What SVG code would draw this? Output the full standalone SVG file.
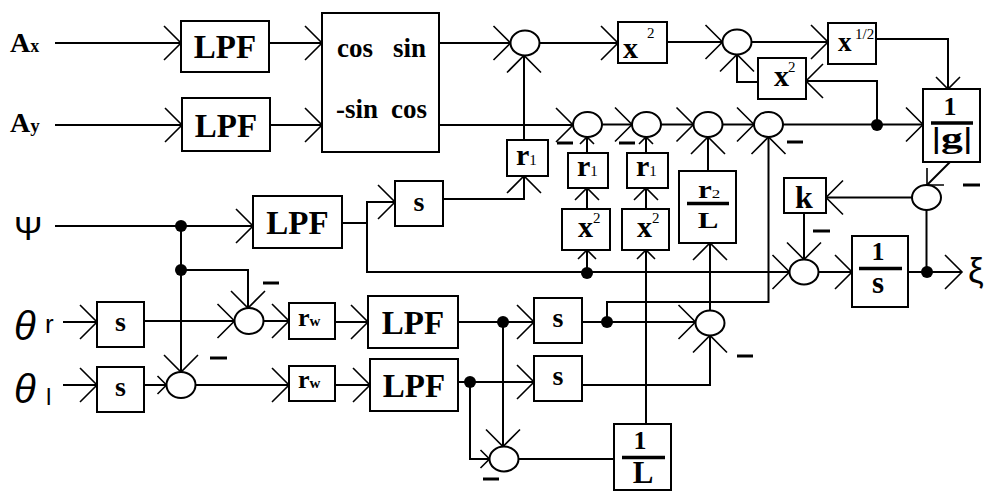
<svg xmlns="http://www.w3.org/2000/svg" width="990" height="493" viewBox="0 0 990 493">
<defs>
<style>
.ln{fill:none;stroke:#000;stroke-width:2}
.bx{fill:#fff;stroke:#000;stroke-width:2}
.sj{fill:#fff;stroke:#000;stroke-width:2}
.dot{fill:#000}
.neg{stroke:#000;stroke-width:3}
.bar{stroke:#000;stroke-width:3.5}
.ch{fill:none;stroke:#000;stroke-width:1.6}
.t{font-family:"Liberation Serif","Times New Roman",serif;font-weight:bold;fill:#000}
.n{font-weight:normal}
.c{text-anchor:middle}
.sans{font-family:"Liberation Sans",Arial,sans-serif;font-weight:normal;fill:#000}
</style>
<marker id="a" markerUnits="userSpaceOnUse" markerWidth="40" markerHeight="40" refX="0" refY="0" orient="auto" overflow="visible"><path class="ch" d="M-17,-17L0,0L-17,17"/></marker>
<marker id="m" markerUnits="userSpaceOnUse" markerWidth="30" markerHeight="30" refX="0" refY="0" orient="auto" overflow="visible"><path class="ch" d="M-12,-12L0,0L-12,12"/></marker>
<marker id="s" markerUnits="userSpaceOnUse" markerWidth="20" markerHeight="20" refX="0" refY="0" orient="auto" overflow="visible"><path class="ch" d="M-9,-9L0,0L-9,9"/></marker>
<marker id="t" markerUnits="userSpaceOnUse" markerWidth="16" markerHeight="16" refX="0" refY="0" orient="auto" overflow="visible"><path class="ch" d="M-7,-7L0,0L-7,7"/></marker>
</defs>
<rect width="990" height="493" fill="#fff"/>

<g id="connectors">
<path class="ln" marker-end="url(#a)" d="M55,43H181"/>
<path class="ln" marker-end="url(#a)" d="M269,43H322"/>
<path class="ln" marker-end="url(#a)" d="M55,125H182"/>
<path class="ln" marker-end="url(#a)" d="M270,125H322"/>
<path class="ln" marker-end="url(#a)" d="M439,43H510.5"/>
<path class="ln" marker-end="url(#a)" d="M524,140V55.5"/>
<path class="ln" marker-end="url(#a)" d="M539.5,43H618"/>
<path class="ln" marker-end="url(#a)" d="M667,42H722.5"/>
<path class="ln" marker-end="url(#a)" d="M751.5,42H828"/>
<path class="ln" marker-end="url(#m)" d="M876,39H948V89"/>
<path class="ln" marker-end="url(#a)" d="M877,125V81H806"/>
<path class="ln" marker-end="url(#a)" d="M758,82H737V54.5"/>
<path class="ln" marker-end="url(#a)" d="M439,125H573"/>
<path class="ln" marker-end="url(#a)" d="M602,124.5H632"/>
<path class="ln" marker-end="url(#a)" d="M661,124.5H693.5"/>
<path class="ln" marker-end="url(#a)" d="M722.5,124.5H754"/>
<path class="ln" marker-end="url(#a)" d="M783,124.5H923"/>
<path class="ln" marker-end="url(#t)" d="M587,153V137"/>
<path class="ln" marker-end="url(#t)" d="M646,153V137"/>
<path class="ln" marker-end="url(#m)" d="M587,209V188"/>
<path class="ln" marker-end="url(#m)" d="M646,209V188"/>
<path class="ln" marker-end="url(#s)" d="M587,273V250"/>
<path class="ln" marker-end="url(#s)" d="M646,424V250"/>
<path class="ln" marker-end="url(#a)" d="M708,171V137"/>
<path class="ln" marker-end="url(#a)" d="M710,310.5V243"/>
<path class="ln" marker-end="url(#a)" d="M607,322V302H768.5V137"/>
<path class="ln" marker-end="url(#m)" d="M950,162L927,185"/>
<path class="ln" marker-end="url(#a)" d="M912,197.5H826"/>
<path class="ln" d="M926.5,210V272"/>
<path class="ln" marker-end="url(#a)" d="M804,213V259.5"/>
<path class="ln" marker-end="url(#a)" d="M342,223H367V272H789.5"/>
<path class="ln" marker-end="url(#a)" d="M367,223V202H395"/>
<path class="ln" marker-end="url(#a)" d="M443,199H524V176"/>
<path class="ln" marker-end="url(#a)" d="M818.5,272H852"/>
<path class="ln" marker-end="url(#a)" d="M908,272H962"/>
<path class="ln" marker-end="url(#a)" d="M55,226H253"/>
<path class="ln" marker-end="url(#a)" d="M181,226V372"/>
<path class="ln" marker-end="url(#a)" d="M181,270H248V308"/>
<path class="ln" marker-end="url(#a)" d="M63,322H97"/>
<path class="ln" marker-end="url(#a)" d="M144,321H234.5"/>
<path class="ln" marker-end="url(#a)" d="M263.5,321H289"/>
<path class="ln" marker-end="url(#a)" d="M335,322H368"/>
<path class="ln" marker-end="url(#a)" d="M458,322H534"/>
<path class="ln" marker-end="url(#a)" d="M582,322H695.5"/>
<path class="ln" marker-end="url(#a)" d="M503,322V446.5"/>
<path class="ln" marker-end="url(#a)" d="M63,385H97"/>
<path class="ln" marker-end="url(#s)" d="M144,385H166.5"/>
<path class="ln" marker-end="url(#a)" d="M195.5,385H289"/>
<path class="ln" marker-end="url(#a)" d="M335,385H370"/>
<path class="ln" marker-end="url(#a)" d="M458,382H534"/>
<path class="ln" marker-end="url(#s)" d="M470,382V459H489.5"/>
<path class="ln" d="M518.5,459H614"/>
<path class="ln" marker-end="url(#a)" d="M582,385H710V335.5"/>
<circle class="dot" cx="877" cy="125" r="6"/>
<circle class="dot" cx="587" cy="273" r="6"/>
<circle class="dot" cx="927" cy="272" r="6"/>
<circle class="dot" cx="181" cy="226" r="6"/>
<circle class="dot" cx="181" cy="270" r="6"/>
<circle class="dot" cx="503" cy="322" r="6"/>
<circle class="dot" cx="607" cy="322" r="6"/>
<circle class="dot" cx="470" cy="382" r="6"/>
</g>

<g id="inputs">
<text class="t" x="10" y="52" font-size="28">A<tspan font-size="18">x</tspan></text>
<text class="t" x="10" y="132" font-size="28">A<tspan font-size="19">y</tspan></text>
<text class="sans" x="14" y="240" font-size="34">Ψ</text>
<text class="sans" x="14" y="340" font-size="40" font-style="italic">θ<tspan x="45" y="333" font-size="26" font-style="normal">r</tspan></text>
<text class="sans" x="14" y="403" font-size="40" font-style="italic">θ<tspan x="46" y="405" font-size="24" font-style="normal">l</tspan></text>
<text class="sans" x="968" y="283" font-size="35">ξ</text>
</g>

<g id="lpf1"><rect class="bx" x="181" y="21" width="88" height="51"/><text class="t c" x="225" y="57.5" font-size="33">LPF</text></g>
<g id="lpf2"><rect class="bx" x="182" y="98" width="88" height="53"/><text class="t c" x="226" y="136.5" font-size="33">LPF</text></g>
<g id="rotation"><rect class="bx" x="322" y="13" width="117" height="139"/>
<text class="t" x="337" y="57" font-size="27">cos</text><text class="t" x="393" y="57" font-size="27">sin</text>
<text class="t" x="336" y="118" font-size="27">-sin</text><text class="t" x="391" y="118" font-size="27">cos</text></g>
<g id="sum1"><ellipse class="sj" cx="525" cy="43" rx="14.5" ry="12.5"/></g>
<g id="sq1"><rect class="bx" x="618" y="22" width="49" height="41"/><text class="t" x="623" y="58" font-size="30">x<tspan x="647" y="38" font-size="15" font-weight="normal">2</tspan></text></g>
<g id="sum2"><ellipse class="sj" cx="737" cy="42" rx="14.5" ry="12.5"/></g>
<g id="sq2"><rect class="bx" x="758" y="58" width="48" height="41"/><text class="t" x="774" y="86" font-size="30">x<tspan x="788" y="72" font-size="15" font-weight="normal">2</tspan></text></g>
<g id="sqrt"><rect class="bx" x="828" y="23" width="48" height="41"/><text class="t" x="838" y="51" font-size="27">x<tspan x="855" y="39" font-size="15" font-weight="normal">1/2</tspan></text></g>
<g id="invg"><rect class="bx" x="923" y="89" width="57" height="73"/>
<text class="t c" x="950" y="115" font-size="26">1</text>
<line class="bar" x1="931" y1="123" x2="973" y2="123"/>
<text class="t c" x="952" y="148" font-size="30" textLength="41" lengthAdjust="spacingAndGlyphs">|g|</text></g>

<g id="r1a"><rect class="bx" x="507" y="140" width="41" height="36"/><text class="t" x="516" y="165" font-size="30">r<tspan font-size="15" font-weight="normal">1</tspan></text></g>
<g id="sumA"><ellipse class="sj" cx="587.5" cy="124.5" rx="14.5" ry="12.5"/></g>
<g id="sumB"><ellipse class="sj" cx="646.5" cy="124.5" rx="14.5" ry="12.5"/></g>
<g id="sumC"><ellipse class="sj" cx="708" cy="124.5" rx="14.5" ry="12.5"/></g>
<g id="sumD"><ellipse class="sj" cx="768.5" cy="124.5" rx="14.5" ry="12.5"/></g>
<g id="r1b"><rect class="bx" x="568" y="153" width="40" height="35"/><text class="t" x="577" y="176" font-size="30">r<tspan font-size="15" font-weight="normal">1</tspan></text></g>
<g id="r1c"><rect class="bx" x="627" y="153" width="41" height="35"/><text class="t" x="636" y="176" font-size="30">r<tspan font-size="15" font-weight="normal">1</tspan></text></g>
<g id="sq3"><rect class="bx" x="562" y="209" width="48" height="41"/><text class="t" x="578" y="237" font-size="30">x<tspan x="593" y="223" font-size="15" font-weight="normal">2</tspan></text></g>
<g id="sq4"><rect class="bx" x="622" y="209" width="47" height="41"/><text class="t" x="637" y="237" font-size="30">x<tspan x="652" y="223" font-size="15" font-weight="normal">2</tspan></text></g>
<g id="r2L"><rect class="bx" x="679" y="171" width="57" height="72"/>
<text class="t" transform="translate(698,198) scale(1,0.78)" font-size="31">r<tspan font-size="17" font-weight="normal">2</tspan></text>
<line class="bar" x1="687" y1="203.5" x2="729" y2="203.5"/>
<text class="t c" transform="translate(708,227.5) scale(1,0.72)" font-size="31">L</text></g>

<g id="sumF"><ellipse class="sj" cx="926.5" cy="197.5" rx="14.5" ry="12.5"/></g>
<g id="k"><rect class="bx" x="784" y="178" width="42" height="35"/><text class="t c" x="804" y="208" font-size="32">k</text></g>
<g id="sumG"><ellipse class="sj" cx="804" cy="272" rx="14.5" ry="12.5"/></g>
<g id="integ"><rect class="bx" x="852" y="236" width="56" height="71"/>
<text class="t c" x="878" y="260" font-size="26">1</text>
<line class="bar" x1="859" y1="268.5" x2="902" y2="268.5"/>
<text class="t c" x="878" y="293" font-size="31">s</text></g>

<g id="lpf3"><rect class="bx" x="253" y="196" width="89" height="52"/><text class="t c" x="297.5" y="233.5" font-size="33">LPF</text></g>
<g id="s0"><rect class="bx" x="395" y="181" width="48" height="45"/><text class="t c" x="419" y="211" font-size="28">s</text></g>

<g id="s1"><rect class="bx" x="97" y="302" width="47" height="45"/><text class="t c" x="120.5" y="331" font-size="28">s</text></g>
<g id="s2"><rect class="bx" x="97" y="367" width="47" height="45"/><text class="t c" x="120.5" y="396" font-size="28">s</text></g>
<g id="sumH"><ellipse class="sj" cx="249" cy="321" rx="14.5" ry="13"/></g>
<g id="sumI"><ellipse class="sj" cx="181" cy="385" rx="14.5" ry="13"/></g>
<g id="rw1"><rect class="bx" x="289" y="303" width="46" height="36"/><text class="t" x="298" y="326" font-size="26">r<tspan font-size="15">w</tspan></text></g>
<g id="rw2"><rect class="bx" x="289" y="366" width="46" height="35"/><text class="t" x="298" y="388" font-size="26">r<tspan font-size="15">w</tspan></text></g>
<g id="lpf4"><rect class="bx" x="368" y="296" width="90" height="52"/><text class="t c" x="413" y="333.5" font-size="33">LPF</text></g>
<g id="lpf5"><rect class="bx" x="370" y="359" width="88" height="52"/><text class="t c" x="414" y="396.5" font-size="33">LPF</text></g>
<g id="s3"><rect class="bx" x="534" y="298" width="48" height="45"/><text class="t c" x="558" y="327" font-size="28">s</text></g>
<g id="s4"><rect class="bx" x="534" y="356" width="48" height="45"/><text class="t c" x="558" y="385" font-size="28">s</text></g>
<g id="sumE"><ellipse class="sj" cx="710" cy="323" rx="14.5" ry="12.5"/></g>
<g id="sumJ"><ellipse class="sj" cx="504" cy="459" rx="14.5" ry="12.5"/></g>
<g id="invL"><rect class="bx" x="614" y="424" width="57" height="66"/>
<text class="t c" x="640" y="449" font-size="26">1</text>
<line class="bar" x1="622" y1="457.5" x2="665" y2="457.5"/>
<text class="t c" x="643" y="483" font-size="31">L</text></g>

<g id="signs">
<line class="neg" x1="557" y1="143" x2="573" y2="143"/>
<line class="neg" x1="619" y1="143" x2="635" y2="143"/>
<line class="neg" x1="787" y1="142" x2="803" y2="142"/>
<line class="neg" x1="963" y1="185" x2="980" y2="185"/>
<line class="neg" x1="813" y1="231" x2="830" y2="231"/>
<line class="neg" x1="263" y1="283" x2="279" y2="283"/>
<line class="neg" x1="210" y1="358" x2="227" y2="358"/>
<line class="neg" x1="737" y1="356" x2="753" y2="356"/>
<line class="neg" x1="483" y1="479" x2="499" y2="479"/>
</g>
</svg>
